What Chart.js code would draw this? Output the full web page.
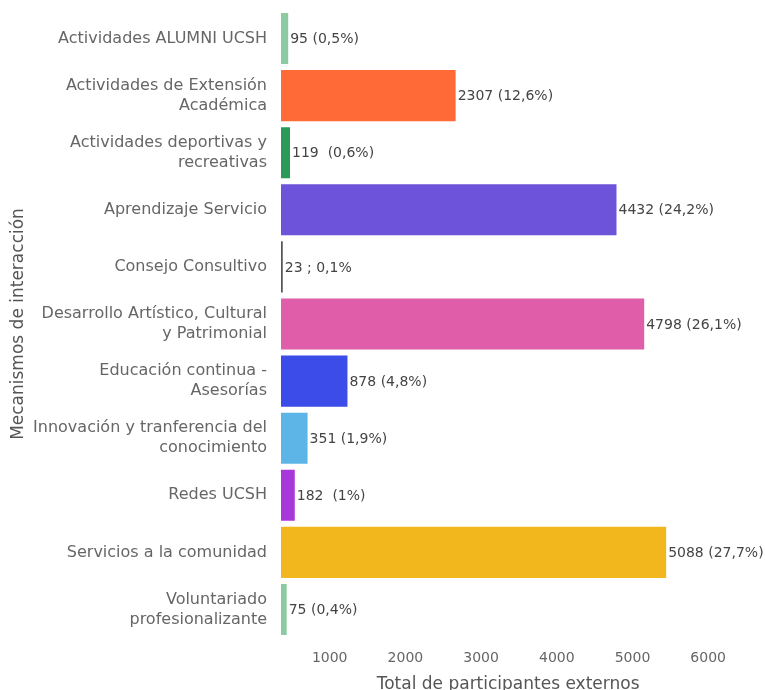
<!DOCTYPE html>
<html>
<head>
<meta charset="utf-8">
<script src="https://cdn.jsdelivr.net/npm/chart.js@4.4.1/dist/chart.umd.min.js"></script>
<style>
  body { margin: 0; background: #fff; }
  #wrap { width: 765px; height: 690px; }
</style>
</head>
<body>
<div id="wrap"><canvas id="chart"></canvas></div>
<script>
const categories = [
  'Actividades ALUMNI UCSH',
  ['Actividades de Extensión', 'Académica'],
  ['Actividades deportivas y', 'recreativas'],
  'Aprendizaje Servicio',
  'Consejo Consultivo',
  ['Desarrollo Artístico, Cultural', 'y Patrimonial'],
  ['Educación continua -', 'Asesorías'],
  ['Innovación y tranferencia del', 'conocimiento'],
  'Redes UCSH',
  'Servicios a la comunidad',
  ['Voluntariado', 'profesionalizante']
];
const participantes = [95, 2307, 119, 4432, 23, 4798, 878, 351, 182, 5088, 75];
const etiquetas = [
  '95 (0,5%)', '2307 (12,6%)', '119  (0,6%)', '4432 (24,2%)', '23 ; 0,1%',
  '4798 (26,1%)', '878 (4,8%)', '351 (1,9%)', '182  (1%)', '5088 (27,7%)', '75 (0,4%)'
];
const colores = [
  '#8ccaa2', '#ff6a37', '#2a9a58', '#6c53da', '#555555', '#e05da9',
  '#3b4ce9', '#5cb4e7', '#a838d9', '#f2b71c', '#8ccaa2'
];
const xTicks = [1000, 2000, 3000, 4000, 5000, 6000];

const FONT = 'DejaVu Sans';

// etiquetas al final de cada barra
const barLabels = {
  id: 'barLabels',
  afterDatasetsDraw(chart) {
    const ctx = chart.ctx;
    const meta = chart.getDatasetMeta(0);
    ctx.save();
    ctx.font = '14px "' + FONT + '"';
    ctx.fillStyle = '#444';
    ctx.textBaseline = 'middle';
    ctx.textAlign = 'left';
    meta.data.forEach((bar, i) => {
      ctx.fillText(etiquetas[i], bar.x + 2, bar.y + 1);
    });
    ctx.restore();
  }
};

new Chart(document.getElementById('chart'), {
  type: 'bar',
  data: {
    labels: categories,
    datasets: [{
      data: participantes,
      backgroundColor: colores,
      categoryPercentage: 0.895,
      barPercentage: 1
    }]
  },
  options: {
    indexAxis: 'y',
    responsive: true,
    maintainAspectRatio: false,
    animation: false,
    layout: { padding: { top: 10, right: 29, bottom: 0, left: 0 } },
    plugins: { legend: { display: false }, tooltip: { enabled: false } },
    scales: {
      x: {
        min: 0,
        max: 6000,
        afterBuildTicks(scale) {
          scale.ticks = xTicks.map(v => ({ value: v }));
        },
        afterFit(scale) { scale.height = 52; },
        grid: { display: false, drawTicks: false },
        border: { display: false },
        ticks: {
          color: '#666',
          font: { family: FONT, size: 14 },
          padding: 12,
          labelOffset: -27,
          maxRotation: 0,
          callback: v => String(v)
        },
        title: {
          display: true,
          text: 'Total de participantes externos',
          color: '#555',
          font: { family: FONT, size: 17 },
          padding: { top: 0, bottom: -5 }
        }
      },
      y: {
        afterFit(scale) {
          scale.width = 281;
          scale.paddingTop = 0;
          scale.paddingBottom = 0;
        },
        grid: { display: false, drawTicks: false },
        border: { display: false },
        ticks: {
          color: '#666',
          font: { family: FONT, size: 16, lineHeight: 1.25 },
          padding: 14,
          autoSkip: false
        },
        title: {
          display: true,
          text: 'Mecanismos de interacción',
          color: '#555',
          font: { family: FONT, size: 17 },
          padding: { top: 8, bottom: 0 }
        }
      }
    }
  },
  plugins: [barLabels]
});
</script>
</body>
</html>
